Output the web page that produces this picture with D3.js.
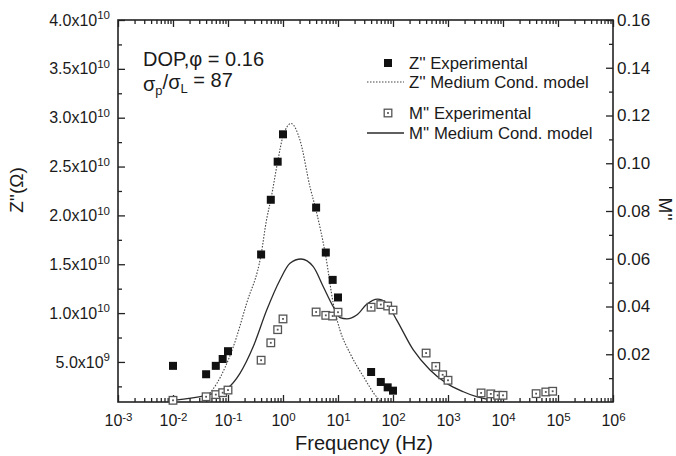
<!DOCTYPE html>
<html>
<head>
<meta charset="utf-8">
<script src="https://cdn.jsdelivr.net/npm/d3@7"></script>
<style>
  body { margin: 0; background: #fff; }
  svg { display: block; }
  text { font-family: "Liberation Sans", Arial, sans-serif; fill: #1a1a1a; }
</style>
</head>
<body>
<svg id="chart" width="676" height="456"></svg>
<script>
// Z'' experimental points (frequency in Hz, Z'' in ohm)
const zFreq = [0.01, 0.04, 0.06, 0.08, 0.1, 0.4, 0.6, 0.8, 1, 4, 6, 8, 10, 40, 60, 80, 100];
const zExp  = [4.6e9, 3.74e9, 4.6e9, 5.3e9, 6.1e9, 1.6e10, 2.16e10, 2.55e10, 2.83e10, 2.08e10,
               1.62e10, 1.34e10, 1.16e10, 3.97e9, 2.95e9, 2.4e9, 2.06e9];

// M'' experimental points
const mFreq = [0.01, 0.04, 0.06, 0.08, 0.1, 0.4, 0.6, 0.8, 1, 4, 6, 8, 10, 40, 60, 80, 100,
               400, 600, 800, 1000, 4000, 6000, 8000, 10000, 40000, 60000, 80000];
const mExp  = [0.0007, 0.0022, 0.0031, 0.0039, 0.005, 0.0175, 0.0248, 0.0303, 0.0348, 0.0377,
               0.0363, 0.036, 0.0376, 0.0397, 0.0408, 0.0402, 0.0385, 0.0205, 0.0149, 0.0114,
               0.0091, 0.0038, 0.0034, 0.0028, 0.0028, 0.0035, 0.0042, 0.0045];

// Medium-conductivity model curve for Z''
const zModelFreq = [0.033, 0.041, 0.0626, 0.125, 0.218, 0.4, 0.5, 0.6, 0.8, 1.0, 1.4, 2.04,
                    3.1, 4.0, 6.0, 8.2, 10.8, 16.5, 29, 50, 62];
const zModelVal  = [9.0e8, 1.44e9, 2.8e9, 6.56e9, 1.1e10, 1.6e10, 1.95e10, 2.16e10, 2.55e10,
                    2.81e10, 2.94e10, 2.77e10, 2.29e10, 2.05e10, 1.58e10, 1.1e10, 8.3e9, 5.9e9,
                    3.5e9, 1.44e9, 9.0e8];

// Medium-conductivity model curve for M''
const mModelFreq = [0.01, 0.041, 0.1, 0.165, 0.288, 0.506, 0.88, 1.34, 2.12, 3.55, 5.4, 8.2,
                    10.9, 14.4, 21.9, 33.2, 52.6, 76.7, 117, 234, 471, 946, 1900, 3300, 5000];
const mModelVal  = [0.0007, 0.0029, 0.006, 0.012, 0.0232, 0.0385, 0.0511, 0.0581, 0.0599,
                    0.0567, 0.0483, 0.0399, 0.0353, 0.0348, 0.0364, 0.0409, 0.0431, 0.0413,
                    0.0343, 0.0218, 0.0134, 0.0078, 0.0043, 0.0022, 0.0012];

// Tick definitions
const xTickExps = [-3, -2, -1, 0, 1, 2, 3, 4, 5, 6];
const leftTicks = [5e9, 1e10, 1.5e10, 2e10, 2.5e10, 3e10, 3.5e10, 4e10];
const leftTickMant = ["5.0", "1.0", "1.5", "2.0", "2.5", "3.0", "3.5", "4.0"];
const leftTickExp  = ["9", "10", "10", "10", "10", "10", "10", "10"];
const rightTicks = [0.02, 0.04, 0.06, 0.08, 0.10, 0.12, 0.14, 0.16];
const rightTickLabels = ["0.02", "0.04", "0.06", "0.08", "0.10", "0.12", "0.14", "0.16"];

const svg = d3.select("#chart");
const X0 = 118, X1 = 613, Y0 = 20, Y1 = 402;

const x  = d3.scaleLog().domain([1e-3, 1e6]).range([X0, X1]);
const yL = d3.scaleLinear().domain([9e8, 4e10]).range([Y1, Y0]);
const yR = d3.scaleLinear().domain([0, 0.16]).range([Y1, Y0]);

svg.append("rect").attr("width", 676).attr("height", 456).attr("fill", "#fff");

svg.append("defs").append("clipPath").attr("id", "plot")
  .append("rect").attr("x", X0).attr("y", Y0).attr("width", X1 - X0).attr("height", Y1 - Y0);

// minor tick positions
const xMinor = [];
for (let d = -3; d < 6; d++) for (let k = 2; k <= 9; k++) xMinor.push(k * Math.pow(10, d));
const leftMinor = d3.range(2.5e9, 4e10, 5e9);
const rightMinor = d3.range(0.01, 0.16, 0.02);

const axisColor = "#222";
function styleAxis(g) {
  g.select(".domain").remove();
  g.selectAll(".tick line").attr("stroke", axisColor).attr("stroke-width", 1.3);
}

// bottom axis
const gB = svg.append("g").attr("transform", `translate(0,${Y1})`)
  .call(d3.axisBottom(x).tickValues(xTickExps.map(e => Math.pow(10, e)))
    .tickSizeInner(-7).tickSizeOuter(0).tickPadding(13));
styleAxis(gB);
gB.selectAll(".tick text").attr("font-size", 16).attr("fill", "#1a1a1a").text(null)
  .each(function(d) {
    const t = d3.select(this);
    t.append("tspan").text("10");
    t.append("tspan").attr("dy", "-0.5em").attr("font-size", "0.72em").text(String(Math.round(Math.log10(d))));
  });
svg.append("g").attr("transform", `translate(0,${Y1})`)
  .call(d3.axisBottom(x).tickValues(xMinor).tickSizeInner(-4).tickSizeOuter(0).tickFormat(""))
  .call(styleAxis);

// top axis
svg.append("g").attr("transform", `translate(0,${Y0})`)
  .call(d3.axisTop(x).tickValues(xTickExps.map(e => Math.pow(10, e))).tickSizeInner(-7).tickSizeOuter(0).tickFormat(""))
  .call(styleAxis);
svg.append("g").attr("transform", `translate(0,${Y0})`)
  .call(d3.axisTop(x).tickValues(xMinor).tickSizeInner(-4).tickSizeOuter(0).tickFormat(""))
  .call(styleAxis);

// left axis
const gL = svg.append("g").attr("transform", `translate(${X0},0)`)
  .call(d3.axisLeft(yL).tickValues(leftTicks).tickSizeInner(-7).tickSizeOuter(0).tickPadding(8));
styleAxis(gL);
gL.selectAll(".tick text").attr("font-size", 16).attr("fill", "#1a1a1a").text(null)
  .each(function(d, i) {
    const t = d3.select(this);
    t.append("tspan").text(leftTickMant[i] + "x10");
    t.append("tspan").attr("dy", "-0.55em").attr("font-size", "0.72em").text(leftTickExp[i]);
  });
svg.append("g").attr("transform", `translate(${X0},0)`)
  .call(d3.axisLeft(yL).tickValues(leftMinor).tickSizeInner(-4).tickSizeOuter(0).tickFormat(""))
  .call(styleAxis);

// right axis
const gR = svg.append("g").attr("transform", `translate(${X1},0)`)
  .call(d3.axisRight(yR).tickValues(rightTicks).tickSizeInner(-7).tickSizeOuter(0).tickPadding(4)
    .tickFormat((d, i) => rightTickLabels[i]));
styleAxis(gR);
gR.selectAll(".tick text").attr("font-size", 17).attr("fill", "#1a1a1a");
svg.append("g").attr("transform", `translate(${X1},0)`)
  .call(d3.axisRight(yR).tickValues(rightMinor).tickSizeInner(-4).tickSizeOuter(0).tickFormat(""))
  .call(styleAxis);

// frame
svg.append("rect").attr("x", X0).attr("y", Y0).attr("width", X1 - X0).attr("height", Y1 - Y0)
  .attr("fill", "none").attr("stroke", axisColor).attr("stroke-width", 1.6);

// model curves
const plot = svg.append("g").attr("clip-path", "url(#plot)");
const zLine = d3.line().x(d => x(d[0])).y(d => yL(d[1])).curve(d3.curveMonotoneX);
const mLine = d3.line().x(d => x(d[0])).y(d => yR(d[1])).curve(d3.curveMonotoneX);

plot.append("path").datum(d3.zip(zModelFreq, zModelVal)).attr("d", zLine)
  .attr("fill", "none").attr("stroke", "#444").attr("stroke-width", 1.1).attr("stroke-dasharray", "1.5,1.5");
plot.append("path").datum(d3.zip(mModelFreq, mModelVal)).attr("d", mLine)
  .attr("fill", "none").attr("stroke", "#2a2a2a").attr("stroke-width", 1.3);

// M'' experimental: open squares with a centre dot
const mPts = svg.append("g").selectAll("g").data(d3.zip(mFreq, mExp)).join("g")
  .attr("transform", d => `translate(${x(d[0])},${yR(d[1])})`);
mPts.append("rect").attr("x", -3.8).attr("y", -3.8).attr("width", 7.6).attr("height", 7.6)
  .attr("fill", "#fff").attr("stroke", "#555").attr("stroke-width", 1.3);
mPts.append("rect").attr("x", -0.9).attr("y", -0.9).attr("width", 1.8).attr("height", 1.8).attr("fill", "#555");

// Z'' experimental: filled squares
svg.append("g").selectAll("rect").data(d3.zip(zFreq, zExp)).join("rect")
  .attr("x", d => x(d[0]) - 4).attr("y", d => yL(d[1]) - 4)
  .attr("width", 8).attr("height", 8).attr("fill", "#111");

// annotation
svg.append("text").attr("x", 143).attr("y", 66).attr("font-size", 20).text("DOP,φ = 0.16");
const ann = svg.append("text").attr("x", 143).attr("y", 91).attr("font-size", 20);
ann.append("tspan").text("σ");
ann.append("tspan").attr("dy", "0.3em").attr("font-size", "0.65em").text("p");
ann.append("tspan").attr("dy", "-0.3em").text("/σ");
ann.append("tspan").attr("dy", "0.3em").attr("font-size", "0.65em").text("L");
ann.append("tspan").attr("dy", "-0.3em").text(" = 87");

// legend
const legendRows = [
  { y: 63, label: "Z'' Experimental" },
  { y: 82, label: "Z'' Medium Cond. model" },
  { y: 113, label: "M'' Experimental" },
  { y: 133, label: "M'' Medium Cond. model" }
];
const lg = svg.append("g");
lg.append("rect").attr("x", 384).attr("y", 59).attr("width", 8).attr("height", 8).attr("fill", "#111");
lg.append("line").attr("x1", 367).attr("x2", 404).attr("y1", 82).attr("y2", 82)
  .attr("stroke", "#444").attr("stroke-width", 1.1).attr("stroke-dasharray", "1.5,1.5");
lg.append("rect").attr("x", 384.2).attr("y", 109.2).attr("width", 7.6).attr("height", 7.6)
  .attr("fill", "#fff").attr("stroke", "#555").attr("stroke-width", 1.3);
lg.append("rect").attr("x", 387.1).attr("y", 112.1).attr("width", 1.8).attr("height", 1.8).attr("fill", "#555");
lg.append("line").attr("x1", 367).attr("x2", 404).attr("y1", 133).attr("y2", 133)
  .attr("stroke", "#2a2a2a").attr("stroke-width", 1.3);
lg.selectAll("text.lab").data(legendRows).join("text").attr("class", "lab")
  .attr("x", 409).attr("y", d => d.y).attr("dy", "0.36em").attr("font-size", 16.7).text(d => d.label);

// axis titles
svg.append("text").attr("x", 364).attr("y", 450).attr("text-anchor", "middle").attr("font-size", 20)
  .text("Frequency (Hz)");
svg.append("text").attr("transform", "translate(16,190) rotate(-90)").attr("text-anchor", "middle")
  .attr("dy", "0.36em").attr("font-size", 19).text("Z''(Ω)");
svg.append("text").attr("transform", "translate(666,209) rotate(90)").attr("text-anchor", "middle")
  .attr("dy", "0.36em").attr("font-size", 19).text("M''");
</script>
</body>
</html>
